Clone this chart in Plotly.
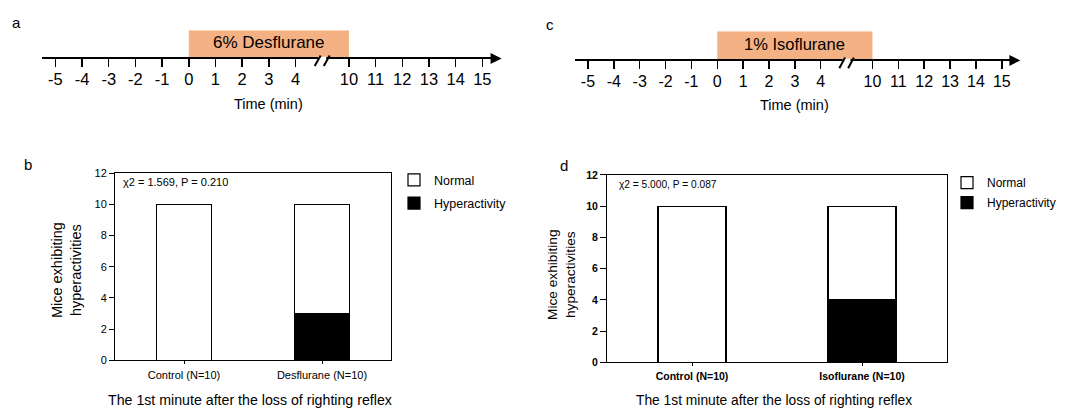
import plotly.graph_objects as go

# ---------------- data ----------------
time_labels = [-5, -4, -3, -2, -1, 0, 1, 2, 3, 4, 10, 11, 12, 13, 14, 15]
break_after = 4          # axis is broken between 4 and 10
exposure_start = 0
exposure_end = 10
exposure_a = "6% Desflurane"
exposure_c = "1% Isoflurane"

groups_b = ["Control (N=10)", "Desflurane (N=10)"]
normal_b = [10, 7]
hyper_b = [0, 3]
stat_b = "χ2 = 1.569, P = 0.210"

groups_d = ["Control (N=10)", "Isoflurane (N=10)"]
normal_d = [10, 6]
hyper_d = [0, 4]
stat_d = "χ2 = 5.000, P = 0.087"

FONT = "Liberation Sans, Arial, Helvetica, sans-serif"
W, H = 1079, 414


def pos(t):
    # position on the broken time axis
    return t if t <= break_after else t - (exposure_end - break_after - 2)


break_pos = break_after + 1
tick_pos = [pos(t) for t in time_labels]


def px(x):
    return x / W


def py(y):
    return 1 - y / H


fig = go.Figure()

# ---------- stacked bars ----------
for xa, ya, groups, hyper, normal, leg in [
    ("x3", "y3", groups_b, hyper_b, normal_b, "legend"),
    ("x4", "y4", groups_d, hyper_d, normal_d, "legend2"),
]:
    fig.add_trace(go.Bar(x=groups, y=hyper, name="Hyperactivity", xaxis=xa, yaxis=ya,
                         marker=dict(color="black", line=dict(color="black", width=1.2)),
                         legend=leg, legendgroup=leg + "h", legendrank=2, hoverinfo="skip"))
    fig.add_trace(go.Bar(x=groups, y=normal, name="Normal", xaxis=xa, yaxis=ya,
                         marker=dict(color="white", line=dict(color="black", width=1.2)),
                         legend=leg, legendgroup=leg + "n", legendrank=1, hoverinfo="skip"))

# invisible traces to hold timeline axes
for xa, ya in [("x", "y"), ("x2", "y2")]:
    fig.add_trace(go.Scatter(x=[tick_pos[0]], y=[-1], xaxis=xa, yaxis=ya, mode="markers",
                             marker=dict(opacity=0), showlegend=False, hoverinfo="skip"))

tl_common = dict(range=[-5.5, 11.55], showline=True, linecolor="black", linewidth=2,
                 ticks="outside", ticklen=8, tickwidth=1.5, tickcolor="black",
                 tickvals=tick_pos, ticktext=[str(t) for t in time_labels],
                 showgrid=False, zeroline=False, anchor="free", ticklabelstandoff=-2,
                 fixedrange=True)

layout = dict(
    width=W, height=H, margin=dict(l=0, r=0, t=0, b=0),
    paper_bgcolor="white", plot_bgcolor="white",
    font=dict(family=FONT, color="black"),
    barmode="stack", bargap=0.6, showlegend=True,
    xaxis=dict(domain=[px(42), px(497)], position=py(54), tickfont=dict(size=16.5), **tl_common),
    yaxis=dict(domain=[py(83), py(25)], range=[-1, 1], visible=False, fixedrange=True),
    xaxis2=dict(domain=[px(575), px(1016)], position=py(56), tickfont=dict(size=16), **tl_common),
    yaxis2=dict(domain=[py(86), py(26)], range=[-1, 1], visible=False, fixedrange=True),
    xaxis3=dict(domain=[px(115), px(391)], anchor="y3", range=[-0.5, 1.5],
                showline=True, mirror=True, linecolor="black", linewidth=1,
                ticks="outside", ticklen=3, tickcolor="black", tickfont=dict(size=11),
                ticklabelstandoff=1, showgrid=False, zeroline=False, fixedrange=True),
    yaxis3=dict(domain=[py(365), py(172)], anchor="x3", range=[0, 12], dtick=2,
                showline=True, mirror=True, linecolor="black", linewidth=1,
                ticks="outside", ticklen=5, tickcolor="black", tickfont=dict(size=11),
                showgrid=False, zeroline=False, fixedrange=True),
    xaxis4=dict(domain=[px(607), px(947)], anchor="y4", range=[-0.5, 1.5],
                showline=True, mirror=True, linecolor="black", linewidth=1,
                ticks="outside", ticklen=3, tickcolor="black",
                tickfont=dict(size=10.5, weight="bold"),
                ticklabelstandoff=1, showgrid=False, zeroline=False, fixedrange=True),
    yaxis4=dict(domain=[py(367), py(174)], anchor="x4", range=[0, 12], dtick=2,
                showline=True, mirror=True, linecolor="black", linewidth=1,
                ticks="outside", ticklen=6, tickcolor="black",
                tickfont=dict(size=10.5, weight="bold"),
                showgrid=False, zeroline=False, fixedrange=True),
    legend=dict(x=px(394), xanchor="left", y=py(164), yanchor="top",
                font=dict(size=12.5), bgcolor="rgba(0,0,0,0)", tracegroupgap=4),
    legend2=dict(x=px(947), xanchor="left", y=py(167), yanchor="top",
                 font=dict(size=12), bgcolor="rgba(0,0,0,0)", tracegroupgap=1),
)
fig.update_layout(**layout)

shapes = []
annotations = []
for xr, yr, label, size in [("x", "y", exposure_a, 17), ("x2", "y2", exposure_c, 16.5)]:
    shapes.append(dict(type="rect", xref=xr, yref=yr, x0=pos(exposure_start), x1=pos(exposure_end),
                       y0=0, y1=1, fillcolor="#F4B183", line=dict(width=0), layer="below"))
    mid = (pos(exposure_start) + pos(exposure_end)) / 2
    annotations.append(dict(xref=xr, yref=yr, x=mid, y=0.55, text=label, showarrow=False,
                            font=dict(size=size), xanchor="center", yanchor="middle"))
    # axis break marks
    shapes.append(dict(type="rect", xref=xr, yref=yr, x0=break_pos - 0.15, x1=break_pos + 0.15,
                       y0=-0.06, y1=0.06, fillcolor="white", line=dict(width=0), layer="above"))
    for off in (-0.17, 0.17):
        shapes.append(dict(type="line", xref=xr, yref=yr,
                           x0=break_pos + off - 0.11, y0=-0.27, x1=break_pos + off + 0.11, y1=0.1,
                           line=dict(color="black", width=2), layer="above"))
    # arrow head
    annotations.append(dict(xref=xr, yref=yr, x=11.72, y=0, axref=xr, ayref=yr, ax=11.3, ay=0,
                            text="", showarrow=True, arrowhead=2, arrowsize=1.1, arrowwidth=2,
                            arrowcolor="black"))
    annotations.append(dict(xref=xr, yref="paper", x=mid, y=py(101 if xr == "x" else 102),
                            text="Time (min)", showarrow=False, font=dict(size=14.5),
                            xanchor="center", yanchor="middle"))

# panel letters
for txt, x, y in [("a", 16, 17), ("c", 550, 19), ("b", 28, 163), ("d", 564, 164)]:
    annotations.append(dict(xref="paper", yref="paper", x=px(x), y=py(y), text=txt,
                            showarrow=False, font=dict(size=15), xanchor="center", yanchor="middle"))

# stats text
annotations.append(dict(xref="paper", yref="paper", x=px(121), y=py(181), text=stat_b,
                        showarrow=False, font=dict(size=11), xanchor="left", yanchor="middle"))
annotations.append(dict(xref="paper", yref="paper", x=px(617), y=py(184), text=stat_d,
                        showarrow=False, font=dict(size=10.2), xanchor="left", yanchor="middle"))

# axis titles
annotations.append(dict(xref="paper", yref="paper", x=px(66), y=py(272),
                        text="Mice exhibiting<br>hyperactivities", textangle=-90, showarrow=False,
                        font=dict(size=14.5), xanchor="center", yanchor="middle"))
annotations.append(dict(xref="paper", yref="paper", x=px(562), y=py(277),
                        text="Mice exhibiting<br>hyperactivities", textangle=-90, showarrow=False,
                        font=dict(size=13.7), xanchor="center", yanchor="middle"))
annotations.append(dict(xref="paper", yref="paper", x=px(250), y=py(406),
                        text="The 1st minute after the loss of righting reflex", showarrow=False,
                        font=dict(size=14.2), xanchor="center", yanchor="middle"))
annotations.append(dict(xref="paper", yref="paper", x=px(774), y=py(406),
                        text="The 1st minute after the loss of righting reflex", showarrow=False,
                        font=dict(size=13.8), xanchor="center", yanchor="middle"))

fig.update_layout(shapes=shapes, annotations=annotations)
fig.write_html("out.html", config={"displayModeBar": False, "staticPlot": True},
               post_script="document.body.style.margin='0';document.body.style.overflow='hidden';")
